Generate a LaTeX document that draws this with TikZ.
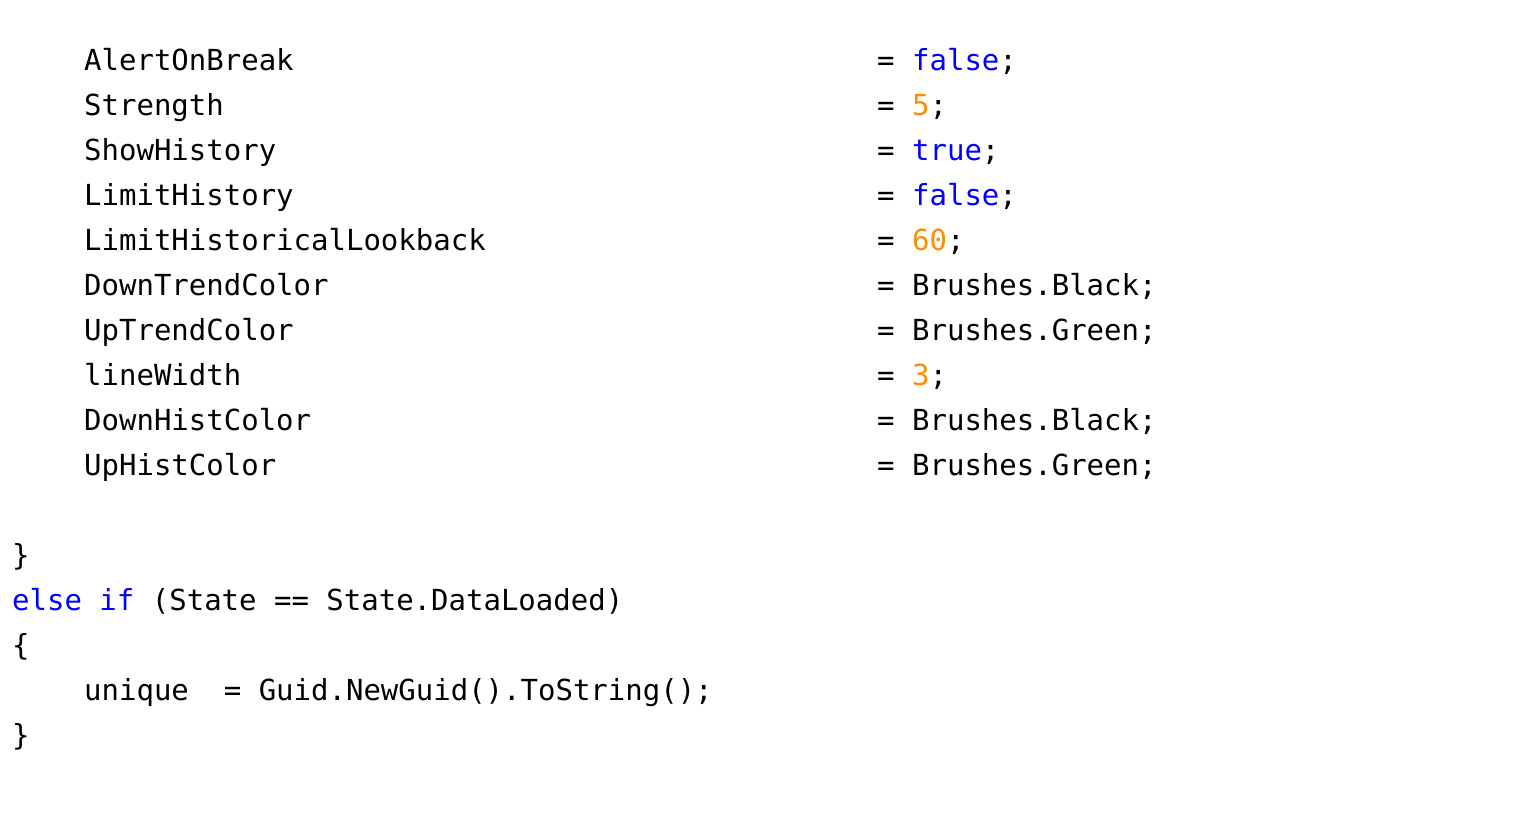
\documentclass[tikz,border=0pt]{standalone}
\usepackage{fontspec}
\setmonofont{DejaVu Sans Mono}
\definecolor{kw}{HTML}{0000FF}
\definecolor{num}{HTML}{FF8C00}
\begin{document}
\begin{tikzpicture}[x=1pt,y=-1pt,
  code/.style={anchor=base west,inner sep=0pt,font=\fontsize{29}{30}\selectfont\ttfamily,text=black}]
\useasboundingbox (0,0) rectangle (1522,830);
\foreach \n/\t [count=\k from 0] in {AlertOnBreak,Strength,ShowHistory,LimitHistory,LimitHistoricalLookback,DownTrendColor,UpTrendColor,lineWidth,DownHistColor,UpHistColor}
  \node[code] (n\k) at (84,{70+45*\k}) {\t};
\node[code] (v0) at (877,70) {= \textcolor{kw}{false};};
\node[code] (v1) at (877,115) {= \textcolor{num}{5};};
\node[code] (v2) at (877,160) {= \textcolor{kw}{true};};
\node[code] (v3) at (877,205) {= \textcolor{kw}{false};};
\node[code] (v4) at (877,250) {= \textcolor{num}{60};};
\node[code] (v5) at (877,295) {= Brushes.Black;};
\node[code] (v6) at (877,340) {= Brushes.Green;};
\node[code] (v7) at (877,385) {= \textcolor{num}{3};};
\node[code] (v8) at (877,430) {= Brushes.Black;};
\node[code] (v9) at (877,475) {= Brushes.Green;};
\node[code] (b1) at (12,565) {\}};
\node[code] (e) at (12,610) {\textcolor{kw}{else if} (State == State.DataLoaded)};
\node[code] (b2) at (12,655) {\{};
\node[code] (u) at (84,700) {unique\ \ = Guid.NewGuid().ToString();};
\node[code] (b3) at (12,745) {\}};
\end{tikzpicture}
\end{document}
